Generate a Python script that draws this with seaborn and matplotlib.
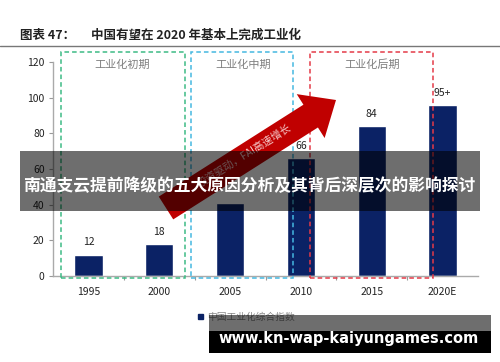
import numpy as np
import matplotlib
matplotlib.use("Agg")
import matplotlib.pyplot as plt
import seaborn as sns
from matplotlib.patches import Rectangle, FancyArrow
from matplotlib.transforms import Affine2D

# data
years = ["1995", "2000", "2005", "2010", "2015", "2020E"]
index_values = [12, 18, 41, 66, 84, 96]
value_labels = ["12", "18", "", "66", "84", "95+"]
stage_names = ["工业化初期", "工业化中期", "工业化后期"]
stage_spans = [(-0.38, 1.37), (1.45, 2.89), (3.13, 4.86)]
stage_colors = ["#3dbb85", "#45b8e0", "#e43a48"]
stage_label_x = [0.48, 2.18, 4.0]

sns.set_style("white")
plt.rcParams['font.family'] = ['Noto Sans CJK SC', 'DejaVu Sans']

W, H = 500, 362
fig = plt.figure(figsize=(W / 100, H / 100), dpi=100)
ax = fig.add_axes([53 / W, 1 - 276 / H, 425 / W, 214 / H])
# pixel coordinates measured from the top-left corner
px = Affine2D().scale(1 / W, -1 / H).translate(0, 1) + fig.transFigure

sns.barplot(x=years, y=index_values, color="#0b2265", width=0.4, ax=ax,
            saturation=1, zorder=2)

for i, lab in enumerate(value_labels):
    if lab:
        ax.text(i, index_values[i] + 4, lab, ha="center", va="bottom",
                fontsize=7.5, color="#222222")

ax.set_xlim(-0.5, 5.5)
ax.set_ylim(0, 120)
ax.set_yticks(range(0, 121, 20))
ax.set_xticks(range(6), years)
ax.set_xticks(np.arange(0.5, 5.5, 1), minor=True)
ax.tick_params(axis="y", which="major", length=3, width=0.8, color="#999999",
               labelsize=7.5, labelcolor="#222222", pad=3, left=True)
ax.tick_params(axis="x", which="major", length=0, labelsize=7.5,
               labelcolor="#222222", pad=8)
ax.tick_params(axis="x", which="minor", length=3, width=0.8, color="#999999",
               bottom=True)
ax.set_xlabel("")
ax.set_ylabel("")
for s in ["top", "right"]:
    ax.spines[s].set_visible(False)
for s in ["left", "bottom"]:
    ax.spines[s].set_color("#aaaaaa")
    ax.spines[s].set_linewidth(1)

# dashed stage boxes
for (x0, x1), c, name, lx in zip(stage_spans, stage_colors, stage_names, stage_label_x):
    ax.add_patch(Rectangle((x0, -1.1), x1 - x0, 126.7, fill=False, edgecolor=c,
                           linestyle=(0, (3, 2)), linewidth=1.1, clip_on=False, zorder=3))
    ax.text(lx, 118.3, name, ha="center", va="center", fontsize=8,
            color="#7f7f7f")

# growth arrow
arrow = FancyArrow(166, 208, 170, -108, width=27, head_width=52, head_length=30,
                   length_includes_head=True, transform=px, color="#c00000",
                   linewidth=0, clip_on=False, zorder=4)
ax.add_patch(arrow)
fig.text(244, 156, "投资驱动，FAI高速增长", transform=px, rotation=32,
         rotation_mode="anchor", ha="center", va="center", fontsize=7.5,
         color="#f6caca", zorder=5)

# title
fig.text(20, 35, "图表 47：", transform=px, fontsize=9, fontweight="bold",
         color="#222222", va="center")
fig.text(91, 35, "中国有望在 2020 年基本上完成工业化", transform=px, fontsize=9,
         fontweight="bold", color="#222222", va="center")
fig.add_artist(plt.Line2D([0, 1], [1 - 46 / H, 1 - 46 / H], color="#777777",
                          linewidth=1, transform=fig.transFigure))

# legend
fig.add_artist(Rectangle((198, 319), 5, -5, transform=px, color="#0b2265"))
fig.text(207, 317, "中国工业化综合指数", transform=px, fontsize=7,
         color="#8a8a8a", va="center")

# overlay banners
fig.add_artist(Rectangle((20, 211), 460, -60, transform=px, color="black",
                         alpha=0.57, linewidth=0, zorder=10))
fig.text(249, 186, "南通支云提前降级的五大原因分析及其背后深层次的影响探讨",
         transform=px, fontsize=12.1, fontweight="bold", color="white",
         ha="center", va="center", zorder=11)
fig.add_artist(Rectangle((209, 353), 282, -38, transform=px, color="black",
                         alpha=0.57, linewidth=0, zorder=10))
fig.add_artist(Rectangle((209, 353), 282, -22, transform=px, color="black",
                         linewidth=0, zorder=10))
fig.text(349, 338, "www.kn-wap-kaiyungames.com", transform=px, fontsize=10.5,
         fontweight="bold", color="white", ha="center", va="center", zorder=11,
         family="DejaVu Sans")

fig.savefig("out.png", dpi=100)
